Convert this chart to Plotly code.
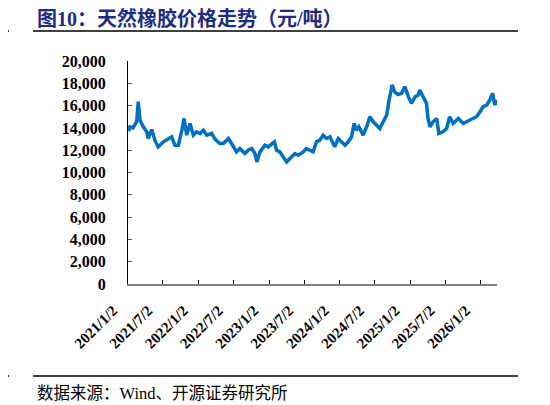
import plotly.graph_objects as go

# 天然橡胶价格 (元/吨)，从图上读取的近似值
dates = [
    "2021-01-04", "2021-01-12", "2021-01-28", "2021-02-16", "2021-02-24", "2021-03-05",
    "2021-03-22", "2021-04-09", "2021-04-16", "2021-05-05", "2021-05-21", "2021-06-07",
    "2021-07-05", "2021-07-29", "2021-08-16", "2021-09-02", "2021-09-20", "2021-10-08",
    "2021-10-19", "2021-11-02", "2021-11-19", "2021-12-06", "2021-12-23", "2022-01-10",
    "2022-01-27", "2022-02-14", "2022-03-11", "2022-03-28", "2022-04-22", "2022-05-10",
    "2022-06-06", "2022-06-22", "2022-07-18", "2022-08-04", "2022-08-30", "2022-09-16",
    "2022-10-04", "2022-10-21", "2022-10-31", "2022-11-16", "2022-12-12", "2022-12-29",
    "2023-01-16", "2023-01-30", "2023-02-10", "2023-02-27", "2023-03-16", "2023-04-03",
    "2023-04-20", "2023-05-16", "2023-06-02", "2023-06-28", "2023-07-14", "2023-08-01",
    "2023-08-18", "2023-09-05", "2023-09-22", "2023-10-09", "2023-10-26", "2023-11-13",
    "2023-12-08", "2023-12-26", "2024-01-12", "2024-01-30", "2024-02-16", "2024-03-04",
    "2024-03-18", "2024-03-29", "2024-04-11", "2024-05-03", "2024-05-21", "2024-06-07",
    "2024-06-24", "2024-07-12", "2024-07-29", "2024-08-15", "2024-09-02", "2024-09-13",
    "2024-09-30", "2024-10-14", "2024-10-31", "2024-11-18", "2024-12-05", "2024-12-23",
    "2025-01-08", "2025-01-27", "2025-02-12", "2025-02-20", "2025-03-10", "2025-03-27",
    "2025-04-04", "2025-04-14", "2025-04-30", "2025-05-19", "2025-05-30", "2025-06-20",
    "2025-07-09", "2025-07-25", "2025-08-12", "2025-09-08", "2025-10-03", "2025-10-20",
    "2025-11-14", "2025-12-11", "2025-12-29", "2026-01-14", "2026-02-02", "2026-02-18",
    "2026-03-04", "2026-03-16", "2026-03-25", "2026-03-27",
]
prices = [
    13700, 14100, 14000, 14550, 16350, 14700,
    14100, 13650, 13050, 13850, 12900, 12300,
    12750, 13050, 13200, 12450, 12450, 13800,
    14850, 13350, 14400, 13350, 13650, 13500,
    13800, 13350, 13500, 13000, 12600, 12600,
    13050, 12600, 11850, 12150, 11700, 12000,
    12150, 11700, 10950, 11850, 12450, 12300,
    12600, 12750, 12000, 11850, 11400, 10950,
    11250, 11700, 11550, 11850, 12150, 12000,
    11850, 12750, 12900, 13350, 13050, 13200,
    12300, 13050, 12750, 12450, 12750, 13200,
    14400, 13800, 14100, 13350, 14100, 15000,
    14550, 14250, 13950, 14550, 15150, 16350,
    17850, 17200, 17000, 17100, 17700, 16800,
    16200, 16800, 16950, 17400, 16800, 16200,
    14850, 14100, 14550, 14850, 13500, 13650,
    13950, 15000, 14400, 14850, 14400, 14550,
    14850, 15000, 15450, 15900, 16050, 16500,
    17100, 16050, 16500, 16200,
]

tick_dates = ["2021-01-02", "2021-07-02", "2022-01-02", "2022-07-02", "2023-01-02",
              "2023-07-02", "2024-01-02", "2024-07-02", "2025-01-02", "2025-07-02",
              "2026-01-02"]
tick_labels = ["2021/1/2", "2021/7/2", "2022/1/2", "2022/7/2", "2023/1/2", "2023/7/2",
               "2024/1/2", "2024/7/2", "2025/1/2", "2025/7/2", "2026/1/2"]

serif = "Liberation Serif, Times New Roman, Noto Sans CJK SC, serif"
cjk = "Liberation Serif, Noto Sans CJK SC, sans-serif"

fig = go.Figure(go.Scatter(
    x=dates, y=prices, mode="lines",
    line=dict(color="#0070C0", width=3.5),
    hoverinfo="x+y",
))

# 页面 body 有 8px 默认边距，所以图小一点
fig.update_layout(
    width=542, height=397,
    margin=dict(l=120, r=53, t=53, b=121),
    paper_bgcolor="white", plot_bgcolor="white",
    showlegend=False,
    font=dict(family=serif, color="black"),
    xaxis=dict(
        type="date",
        range=["2021-01-02", "2026-03-27"],
        tickvals=tick_dates, ticktext=tick_labels,
        tickangle=-45,
        tickfont=dict(family=serif, size=15, weight="bold"),
        showgrid=False, zeroline=False,
        showline=True, linecolor="#808080", linewidth=2,
        ticks="inside", ticklen=4, tickcolor="black", tickwidth=1,
        ticklabelstandoff=10, ticklabelshift=-15,
    ),
    yaxis=dict(
        range=[0, 20000], dtick=2000, tickformat=",",
        tickfont=dict(family=serif, size=16, weight="bold"),
        showgrid=False, zeroline=False,
        showline=True, linecolor="black", linewidth=1,
        ticks="inside", ticklen=4, tickcolor="#595959",
        ticklabelstandoff=18,
    ),
)

# 标题、来源
fig.add_annotation(
    text="图10：天然橡胶价格走势（元/吨）",
    xref="paper", yref="paper", x=-0.252, y=1.1928,
    xanchor="left", yanchor="middle", showarrow=False,
    font=dict(family=cjk, size=20, color="#1F2C85", weight="bold"),
)
fig.add_annotation(
    text="数据来源：Wind、开源证券研究所",
    xref="paper", yref="paper", x=-0.252, y=-0.4888,
    xanchor="left", yanchor="middle", showarrow=False,
    font=dict(family=cjk, size=16.5, color="black"),
)

# 上下两条分隔线（加左边的小短线）
rule_y = [1.1345, -0.4126]
for yy in rule_y:
    fig.add_shape(type="line", xref="paper", yref="paper", layer="above",
                  x0=-0.2575, x1=1.0569, y0=yy, y1=yy,
                  line=dict(color="black", width=1.5))
    fig.add_shape(type="line", xref="paper", yref="paper", layer="above",
                  x0=-0.336, x1=-0.3225, y0=yy, y1=yy,
                  line=dict(color="black", width=1.5))

fig.write_html("out.html")
